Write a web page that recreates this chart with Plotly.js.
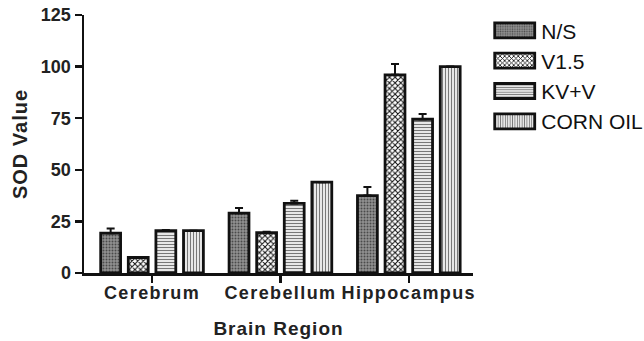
<!DOCTYPE html>
<html>
<head>
<meta charset="utf-8">
<script src="https://cdn.plot.ly/plotly-3.0.1.min.js"></script>
<style>
html,body{margin:0;padding:0;background:#fff;}
#chart{width:644px;height:341px;}
.xtick text{letter-spacing:1.4px;}
.g-xtitle text{letter-spacing:1px;}
.g-ytitle text{letter-spacing:1px;}
</style>
</head>
<body>
<div id="chart"></div>
<script>
const categories = ["Cerebrum", "Cerebellum", "Hippocampus"];
const seriesNames = ["N/S", "V1.5", "KV+V", "CORN OIL"];
const nsValues = [19.3, 29, 37.5];
const nsErrors = [2.2, 2.5, 4.2];
const v15Values = [7.5, 19.5, 96];
const v15Errors = [0.3, 0.5, 5.3];
const kvvValues = [20.5, 33.7, 74.5];
const kvvErrors = [0.3, 1.3, 2.5];
const cornValues = [20.5, 44, 100];
const cornErrors = [0, 0, 0];
const yTicks = [0, 25, 50, 75, 100, 125];

const patterns = [
  {shape: ".", fgcolor: "#4a4a4a", bgcolor: "#929292", size: 3, solidity: 0.35},
  {shape: "x", fgcolor: "#111", bgcolor: "#fff", size: 4, solidity: 0.45},
  {shape: "-", fgcolor: "#777", bgcolor: "#fff", size: 3, solidity: 0.45},
  {shape: "|", fgcolor: "#777", bgcolor: "#fff", size: 3, solidity: 0.45}
];
const values = [nsValues, v15Values, kvvValues, cornValues];
const errors = [nsErrors, v15Errors, kvvErrors, cornErrors];

const traces = seriesNames.map((name, i) => ({
  type: "bar",
  name: name,
  x: categories,
  y: values[i],
  error_y: {
    type: "data", symmetric: false, array: errors[i],
    arrayminus: errors[i].map(() => 0),
    color: "#111", thickness: 2, width: 4,
    visible: true
  },
  marker: {
    color: patterns[i].bgcolor,
    line: {color: "#111", width: 2.8},
    pattern: patterns[i]
  }
}));

const font = "Liberation Sans, Arial, sans-serif";
const layout = {
  width: 644, height: 341,
  margin: {l: 84, r: 171, t: 15, b: 68},
  paper_bgcolor: "#fff", plot_bgcolor: "#fff",
  barmode: "group", bargap: 0.14, bargroupgap: 0.28,
  showlegend: true,
  legend: {
    xref: "container", yref: "container",
    x: 0.755, y: 0.97, xanchor: "left", yanchor: "top",
    font: {family: font, size: 21, color: "#111"},
    itemwidth: 45, tracegroupgap: 0, traceorder: "normal",
    bgcolor: "rgba(0,0,0,0)"
  },
  xaxis: {
    type: "category", range: [-0.53, 2.5],
    showline: true, linecolor: "#111", linewidth: 2.5,
    ticks: "outside", ticklen: 7, tickwidth: 2.5, tickcolor: "#111",
    ticklabelstandoff: -5,
    showgrid: false, zeroline: false,
    tickfont: {family: font, size: 18, color: "#222", weight: "bold"},
    title: {text: "Brain Region", font: {family: font, size: 19, color: "#222", weight: "bold"}, standoff: 20}
  },
  yaxis: {
    range: [0, 125], tickvals: yTicks, ticktext: yTicks.map(String),
    showline: true, linecolor: "#111", linewidth: 2.5,
    ticks: "outside", ticklen: 7, tickwidth: 2.5, tickcolor: "#111",
    showgrid: false, zeroline: false,
    tickfont: {family: font, size: 18, color: "#222", weight: "bold"},
    title: {text: "SOD Value", font: {family: font, size: 20, color: "#222", weight: "bold"}, standoff: 8}
  }
};

Plotly.newPlot("chart", traces, layout, {staticPlot: true}).then(() => {
  document.querySelectorAll(".legendpoints path").forEach(p => {
    p.setAttribute("d", "M21,7.5H-19V-7.5H21Z");
  });
});
</script>
</body>
</html>
